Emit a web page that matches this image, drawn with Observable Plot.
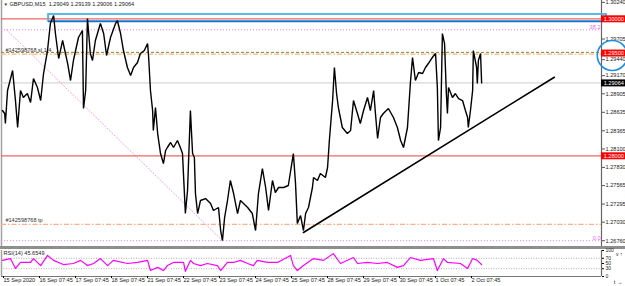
<!DOCTYPE html>
<html><head><meta charset="utf-8">
<script src="https://cdn.jsdelivr.net/npm/d3@7"></script>
<script src="https://cdn.jsdelivr.net/npm/@observablehq/plot@0.6"></script>
<style>
body{margin:0;background:#fff;font-family:"Liberation Sans",Arial,sans-serif;}
#wrap{width:625px;height:286px;position:relative;overflow:hidden;background:#fff}
#wrap svg{display:block;overflow:visible}
#sep{height:3px;background:#8e8e8e;width:625px}
</style></head><body><div id="wrap"><div id="main"></div><div id="sep"></div><div id="rsi"></div></div>
<script>
// ---- data ----
const symbolTitle = "GBPUSD,M15  1.29049 1.29139 1.29006 1.29064";
const dayPos = [0,1,2,3,4,5,6,7,8,9,10,11,12,13];
const dayLabels = ["15 Sep 2020","16 Sep 07:45","17 Sep 07:45","18 Sep 07:45","21 Sep 07:45","22 Sep 07:45","23 Sep 07:45","24 Sep 07:45","25 Sep 07:45","28 Sep 07:45","29 Sep 07:45","30 Sep 07:45","1 Oct 07:45","2 Oct 07:45"];
// tick 1.29975 is hidden behind the 1.30000 badge in the reference
const priceTicks = [1.30240,1.29705,1.29170,1.28905,1.28635,1.28365,1.28100,1.27830,1.27565,1.27295,1.27030,1.26760];
const priceTicksShifted = [1.29440]; // peeks out below the 1.29500 badge
const rsiTicks = [100,70,50,30,0];
// close path (trading days from 15 Sep 07:45)
const priceT = [0.00,0.06,0.08,0.14,0.28,0.36,0.42,0.50,0.58,0.69,0.78,0.86,0.97,1.06,1.14,1.25,1.33,1.42,1.47,1.56,1.67,1.81,1.89,1.97,2.11,2.22,2.25,2.31,2.36,2.44,2.50,2.58,2.72,2.81,2.89,3.00,3.14,3.19,3.28,3.36,3.47,3.56,3.64,3.75,3.83,3.94,4.03,4.06,4.11,4.17,4.19,4.25,4.31,4.39,4.47,4.53,4.58,4.67,4.75,4.86,4.94,5.00,5.08,5.14,5.22,5.28,5.33,5.36,5.42,5.50,5.64,5.78,5.86,6.00,6.06,6.11,6.17,6.25,6.33,6.42,6.53,6.61,6.81,6.94,7.03,7.11,7.22,7.31,7.39,7.50,7.58,7.67,7.81,7.94,8.08,8.14,8.19,8.28,8.36,8.42,8.50,8.61,8.64,8.75,8.83,8.97,9.03,9.08,9.17,9.22,9.28,9.33,9.44,9.58,9.67,9.75,9.86,9.94,10.03,10.14,10.22,10.31,10.36,10.42,10.50,10.58,10.72,10.86,10.97,11.06,11.14,11.25,11.33,11.39,11.47,11.56,11.67,11.75,11.83,11.94,12.03,12.08,12.11,12.17,12.22,12.28,12.33,12.36,12.39,12.50,12.58,12.67,12.78,12.86,12.92,12.94,13.00,13.06,13.08,13.17,13.19,13.22,13.28,13.31];
const priceClose = [1.28661,1.28617,1.28471,1.28953,1.29245,1.28807,1.28413,1.28953,1.28851,1.28909,1.28778,1.29128,1.28997,1.28807,1.29201,1.29537,1.29931,1.30048,1.29785,1.29420,1.29683,1.29347,1.29099,1.29391,1.29727,1.29829,1.28690,1.28953,1.30004,1.29493,1.29391,1.29683,1.29931,1.29785,1.29464,1.29727,1.29931,1.29975,1.29785,1.29537,1.29289,1.29172,1.29289,1.29362,1.29493,1.29537,1.29639,1.29435,1.28953,1.28661,1.28369,1.28705,1.28325,1.28033,1.27887,1.28077,1.28121,1.28194,1.28121,1.28223,1.28121,1.28033,1.27157,1.27493,1.28661,1.28033,1.27975,1.27449,1.27157,1.27347,1.27376,1.27303,1.27201,1.27245,1.26909,1.26763,1.27099,1.27347,1.27639,1.27449,1.27157,1.27347,1.27245,1.27157,1.26909,1.27449,1.27814,1.27537,1.27201,1.27639,1.27464,1.27537,1.27537,1.27566,1.28033,1.27595,1.27011,1.27128,1.26909,1.27157,1.27245,1.27537,1.27683,1.27639,1.27741,1.27683,1.27829,1.28223,1.28807,1.29289,1.28909,1.28705,1.28413,1.28325,1.28369,1.28807,1.28617,1.28471,1.28661,1.28851,1.28661,1.28953,1.28617,1.28252,1.28559,1.28617,1.28690,1.28559,1.28413,1.28223,1.28121,1.28413,1.29055,1.29435,1.29099,1.29216,1.29201,1.29289,1.29347,1.29435,1.29493,1.28997,1.28223,1.28413,1.29785,1.29639,1.28909,1.28617,1.28997,1.28851,1.28909,1.28836,1.28807,1.28661,1.28559,1.28413,1.28661,1.28953,1.29537,1.29289,1.29055,1.29391,1.29493,1.29064];
const rsiT = [0.00,0.22,0.36,0.50,0.78,0.86,1.06,1.25,1.42,1.69,1.97,2.17,2.36,2.53,2.72,2.92,3.08,3.47,3.75,4.03,4.11,4.31,4.47,4.58,4.75,5.03,5.08,5.22,5.31,5.50,5.69,5.97,6.06,6.25,6.42,6.61,6.81,6.97,7.08,7.36,7.64,8.00,8.08,8.19,8.36,8.64,8.92,9.19,9.39,9.75,9.86,10.14,10.42,10.69,10.97,11.14,11.33,11.61,11.97,12.08,12.25,12.36,12.72,12.92,13.06,13.19,13.31];
const rsiV = [62,69,31,54,54,69,42,81,62,46,50,62,42,50,69,42,62,50,54,62,23,35,23,42,54,54,20,62,50,42,50,42,23,54,54,62,50,42,62,54,54,81,42,23,42,69,62,88,50,73,50,54,50,54,35,42,73,62,69,23,69,54,50,31,69,62,45.6549];
// horizontal levels
const roundLevels = [1.30000, 1.28000];
const fiboLevels = [{p:1.29839, label:"38.2"}, {p:1.26760, label:"0.0"}];
const fiboLine = [{t:0.11,p:1.29839},{t:6.11,p:1.26760}];
const slLevel = 1.29485, slOlive = 1.29510, tpLevel = 1.27000;
const orderTexts = [{p:slLevel, label:"#142598768 sl 1.4"},{p:tpLevel, label:"#142598768 tp"}];
const bidPrice = 1.29064;
const trendLine = [{t:8.36,p:1.26880},{t:15.33,p:1.29147}];
const zoneBox = {t1:1.28, t2:16.78, top:1.30063, bottom:1.29961};
const axisBadges = [{p:1.30000,c:"#ff0000"},{p:1.29500,c:"#ff0000"},{p:1.28000,c:"#ff0000"},{p:1.29064,c:"#000000"}];
const circleMark = [{t:16.94, p:1.29464}];

// ---- layout ----
const W = 625, ML = 1, MR = 24;
const tDomain = [-0.028, 16.64];
const tAxisL = 16.64, tLabel = 16.70, tBadgeEnd = 17.31;
const fmt = d3.format(".5f");
const FS = 5.6;
const price = priceT.map((t,i)=>({t, p: priceClose[i]}));
const rsi = rsiT.map((t,i)=>({t, v: rsiV[i]}));

const main = Plot.plot({
  width: W, height: 246, marginLeft: ML, marginRight: MR, marginTop: 0, marginBottom: 0,
  style: {fontFamily: "Liberation Sans, Arial, sans-serif", fontSize: FS+"px", background: "transparent", overflow: "visible"},
  x: {domain: tDomain, axis: null},
  y: {domain: [1.266756, 1.302672]},
  marks: [
    Plot.axisY({anchor: "right", ticks: priceTicks, tickFormat: fmt, tickSize: 3, tickPadding: 1, fontSize: FS, stroke: "#555", fill: "#222"}),
    Plot.axisY({anchor: "right", ticks: priceTicksShifted, tickFormat: fmt, tickSize: 3, tickPadding: 1, dy: 2.5, fontSize: FS, stroke: "#555", fill: "#222"}),
    Plot.ruleX([tDomain[0]], {stroke: "#a0a0a0", strokeWidth: 1.5}),
    Plot.ruleX([tAxisL], {stroke: "#666", strokeWidth: 1.2}),
    // bid line
    Plot.ruleY([bidPrice], {x1: tDomain[0], x2: tAxisL, stroke: "#cccccc"}),
    // fibo
    Plot.ruleY(fiboLevels, {y: "p", x1: tDomain[0], x2: tAxisL, stroke: "#f070f0", strokeWidth: 0.9, strokeDasharray: "1,2"}),
    Plot.line(fiboLine, {x: "t", y: "p", stroke: "#f080f0", strokeWidth: 0.8, strokeDasharray: "1,2.2"}),
    Plot.text(fiboLevels, {x: tAxisL, y: "p", text: "label", textAnchor: "end", dx: -1, dy: -3, fill: "#ee66ee", fontSize: FS}),
    // round-number lines
    Plot.ruleY(roundLevels, {x1: tDomain[0], x2: tAxisL, stroke: "#f06666", strokeWidth: 1.2}),
    // zone box
    Plot.rect([zoneBox], {x1: "t1", x2: "t2", y1: "bottom", y2: "top", fill: "none", stroke: "#45b4e8", strokeWidth: 1.8}),
    Plot.ruleY([zoneBox.bottom], {x1: zoneBox.t1, x2: tAxisL, stroke: "#1f6dcc", strokeWidth: 1.4}),
    // order levels
    Plot.ruleY([slOlive], {x1: tDomain[0], x2: tAxisL, stroke: "#7a8a1a", strokeDasharray: "3,2"}),
    Plot.ruleY([slLevel, tpLevel], {x1: tDomain[0], x2: tAxisL, stroke: "#ffad8a", strokeWidth: 1.2, strokeDasharray: "5,2,1.5,2"}),
    Plot.text(orderTexts, {x: 0.08, y: "p", text: "label", textAnchor: "start", dy: -4, fill: "#333", fontSize: FS}),
    // price
    Plot.line(price, {x: "t", y: "p", stroke: "#000", strokeWidth: 1.4, strokeLinejoin: "miter"}),
    // trendline
    Plot.line(trendLine, {x: "t", y: "p", stroke: "#000", strokeWidth: 1.6}),
    // axis badges
    Plot.ruleY(axisBadges, {y: "p", x1: tAxisL, x2: tBadgeEnd, stroke: "c", strokeWidth: 7}),
    Plot.text(axisBadges, {x: tLabel, y: "p", text: d => fmt(d.p), textAnchor: "start", fill: "#fff", fontSize: FS}),
    // annotation circle
    Plot.dot(circleMark, {x: "t", y: "p", r: 15, stroke: "#1c8fe0", strokeWidth: 1.6, fill: "none"}),
    // title
    Plot.text(["▼"], {frameAnchor: "top-left", dx: 2, dy: 2, lineAnchor: "top", textAnchor: "start", fill: "#333", fontSize: 4.5}),
    Plot.text([symbolTitle], {frameAnchor: "top-left", dx: 8, dy: 2, lineAnchor: "top", textAnchor: "start", fill: "#222", fontSize: FS})
  ]
});

const rsiPlot = Plot.plot({
  width: W, height: 37, marginLeft: ML, marginRight: MR, marginTop: 1, marginBottom: 10,
  style: {fontFamily: "Liberation Sans, Arial, sans-serif", fontSize: FS+"px", background: "transparent", overflow: "visible"},
  x: {domain: tDomain},
  y: {domain: [0, 100]},
  marks: [
    Plot.ruleY([70, 30], {x1: tDomain[0], x2: tAxisL, stroke: "#b0b0b0", strokeDasharray: "1,1.5"}),
    Plot.ruleX([tDomain[0]], {stroke: "#a0a0a0", strokeWidth: 1.5}),
    Plot.ruleX([tAxisL], {stroke: "#666", strokeWidth: 1.2}),
    Plot.ruleY([0], {x1: tDomain[0], x2: tAxisL, stroke: "#777"}),
    Plot.line(rsi, {x: "t", y: "v", stroke: "#ff00ff", strokeWidth: 1.2}),
    Plot.axisY({anchor: "right", ticks: rsiTicks, tickSize: 2, tickPadding: 2, fontSize: 5, fill: "#222"}),
    Plot.axisX({ticks: dayPos, tickFormat: i => dayLabels[i], textAnchor: "start", tickSize: 2, tickPadding: 0, dx: 1, fontSize: FS, fill: "#222"}),
    Plot.text(["RSI(14) 45.6549"], {frameAnchor: "top-left", dx: 2, dy: 1, lineAnchor: "top", textAnchor: "start", fill: "#222", fontSize: FS})
  ]
});

document.getElementById("main").appendChild(main);
document.getElementById("rsi").appendChild(rsiPlot);
</script>
</body></html>
